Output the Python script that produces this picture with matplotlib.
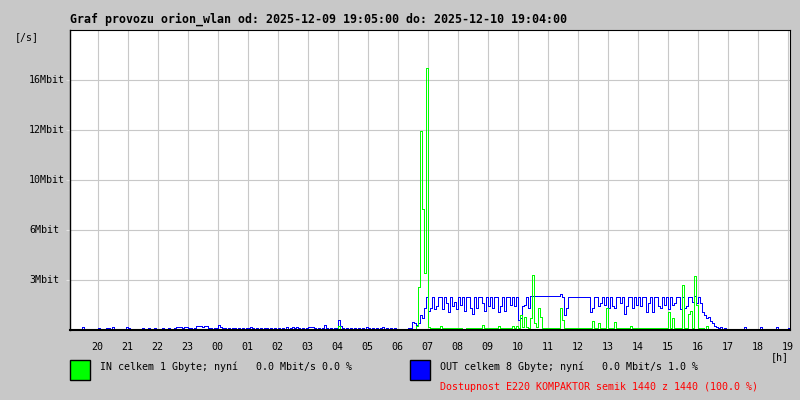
import matplotlib
matplotlib.use("Agg")
import matplotlib.pyplot as plt
from matplotlib.patches import Rectangle
from matplotlib.transforms import blended_transform_factory

# ---------------- data (Mbit/s, one value per 4 minutes, one row per hour from 19:05) ----------------
out_rows = [
    [0.05, 0.05, 0.05, 0.05, 0.05, 0.05, 0.2, 0.05, 0.05, 0.05, 0.05, 0.05, 0.05, 0.05, 0.15],
    [0.05, 0.08, 0.05, 0.12, 0.12, 0.05, 0.18, 0.08, 0.05, 0.05, 0.08, 0.05, 0.08, 0.18, 0.15],
    [0.08, 0.05, 0.08, 0.05, 0.1, 0.1, 0.12, 0.1, 0.1, 0.12, 0.1, 0.1, 0.12, 0.1, 0.1],
    [0.1, 0.12, 0.1, 0.1, 0.12, 0.1, 0.1, 0.12, 0.22, 0.2, 0.22, 0.15, 0.22, 0.2, 0.12],
    [0.12, 0.1, 0.15, 0.3, 0.25, 0.3, 0.2, 0.28, 0.3, 0.15, 0.12, 0.1, 0.12, 0.15, 0.35],
    [0.2, 0.12, 0.15, 0.1, 0.12, 0.1, 0.15, 0.12, 0.1, 0.12, 0.1, 0.12, 0.1, 0.12, 0.15],
    [0.18, 0.12, 0.1, 0.12, 0.1, 0.12, 0.1, 0.12, 0.15, 0.1, 0.12, 0.1, 0.12, 0.1, 0.12],
    [0.1, 0.12, 0.1, 0.22, 0.1, 0.12, 0.18, 0.15, 0.18, 0.15, 0.1, 0.12, 0.1, 0.12, 0.22],
    [0.2, 0.2, 0.12, 0.1, 0.12, 0.1, 0.12, 0.35, 0.12, 0.1, 0.12, 0.1, 0.12, 0.15, 0.65],
    [0.3, 0.12, 0.1, 0.12, 0.1, 0.12, 0.1, 0.12, 0.1, 0.12, 0.1, 0.12, 0.1, 0.22, 0.12],
    [0.1, 0.12, 0.1, 0.12, 0.1, 0.12, 0.22, 0.1, 0.12, 0.1, 0.12, 0.1, 0.12, 0.1, 0.1],
    [0.1, 0.1, 0.1, 0.1, 0.12, 0.12, 0.55, 0.45, 0.35, 0.5, 1.0, 0.8, 1.5, 2.2, 1.3],
    [1.5, 2.2, 1.4, 1.6, 2.2, 2.2, 1.4, 2.2, 1.8, 1.2, 2.2, 1.6, 1.9, 1.4, 2.2],
    [1.7, 2.2, 1.3, 2.2, 2.2, 1.5, 1.1, 2.2, 1.5, 2.2, 2.2, 1.8, 1.3, 2.2, 1.6],
    [2.2, 1.5, 2.2, 2.2, 1.2, 1.6, 2.2, 1.3, 2.2, 2.2, 1.7, 2.2, 1.6, 2.2, 0.7],
    [0.8, 1.6, 1.7, 2.2, 1.5, 2.25, 2.3, 2.3, 2.25, 2.25, 2.25, 2.25, 2.25, 2.25, 2.25],
    [2.25, 2.25, 2.25, 2.25, 2.25, 2.4, 2.2, 1.0, 1.5, 2.2, 2.2, 2.2, 2.2, 2.2, 2.2],
    [2.2, 2.2, 2.2, 2.2, 2.2, 1.2, 1.5, 2.2, 2.2, 1.6, 1.8, 2.2, 1.7, 2.2, 1.5],
    [2.2, 1.6, 1.5, 2.2, 2.2, 1.8, 2.2, 1.1, 1.6, 2.2, 2.2, 1.5, 2.2, 1.7, 2.2],
    [1.6, 2.2, 2.2, 1.2, 1.8, 2.2, 1.2, 2.2, 2.2, 1.6, 1.5, 2.2, 1.7, 2.2, 1.4],
    [2.2, 1.7, 1.8, 2.2, 2.2, 1.4, 2.2, 1.5, 1.6, 2.2, 2.2, 1.9, 2.3, 1.8, 2.2],
    [1.8, 1.2, 1.0, 0.8, 0.9, 0.6, 0.45, 0.3, 0.2, 0.15, 0.2, 0.1, 0.15, 0.1, 0.1],
    [0.08, 0.08, 0.08, 0.08, 0.08, 0.08, 0.08, 0.2, 0.08, 0.08, 0.08, 0.08, 0.08, 0.08, 0.08],
    [0.2, 0.08, 0.08, 0.08, 0.08, 0.08, 0.08, 0.08, 0.2, 0.08, 0.08, 0.08, 0.08, 0.08, 0.15],
]

in_rows = [
    [0, 0, 0, 0, 0, 0, 0, 0, 0, 0, 0, 0, 0, 0, 0],
    [0, 0, 0, 0, 0, 0, 0, 0, 0, 0, 0, 0, 0, 0, 0],
    [0, 0, 0, 0, 0, 0, 0, 0, 0, 0, 0, 0, 0, 0, 0],
    [0, 0, 0, 0, 0, 0, 0, 0, 0, 0, 0, 0, 0, 0, 0],
    [0, 0, 0, 0, 0, 0, 0, 0, 0, 0, 0, 0, 0, 0, 0],
    [0, 0, 0, 0, 0, 0, 0, 0, 0, 0, 0, 0, 0, 0, 0],
    [0, 0, 0, 0, 0, 0, 0, 0, 0, 0, 0, 0, 0, 0, 0],
    [0, 0, 0, 0, 0, 0, 0, 0, 0, 0, 0, 0, 0, 0, 0],
    [0, 0, 0, 0, 0, 0, 0, 0, 0, 0, 0, 0, 0, 0, 0.3],
    [0, 0, 0, 0, 0, 0, 0, 0, 0, 0, 0, 0, 0, 0, 0],
    [0, 0, 0, 0, 0, 0, 0, 0, 0, 0, 0, 0, 0, 0, 0],
    [0, 0, 0, 0, 0, 0, 0.05, 0.1, 0.3, 2.9, 13.3, 8.1, 3.8, 17.5, 0.2],
    [0.15, 0.15, 0.15, 0.15, 0.15, 0.3, 0.15, 0.15, 0.15, 0.15, 0.15, 0.15, 0.15, 0.15, 0.15],
    [0.15, 0.05, 0.05, 0.15, 0.15, 0.15, 0.15, 0.15, 0.15, 0.15, 0.15, 0.35, 0.15, 0.15, 0.15],
    [0.15, 0.15, 0.15, 0.15, 0.3, 0.15, 0.15, 0.15, 0.15, 0.15, 0.15, 0.25, 0.15, 0.25, 0.15],
    [1.0, 0.2, 0.9, 0.2, 0.15, 0.8, 3.7, 0.5, 0.2, 1.5, 0.9, 0.15, 0.15, 0.15, 0.15],
    [0.15, 0.15, 0.15, 0.15, 0.15, 1.5, 0.7, 0.15, 0.15, 0.15, 0.15, 0.15, 0.15, 0.15, 0.15],
    [0.15, 0.15, 0.15, 0.15, 0.15, 0.15, 0.6, 0.15, 0.15, 0.45, 0.15, 0.15, 0.15, 1.5, 0.15],
    [0.15, 0.15, 0.55, 0.15, 0.15, 0.15, 0.15, 0.15, 0.15, 0.15, 0.3, 0.15, 0.15, 0.15, 0.15],
    [0.15, 0.15, 0.15, 0.15, 0.15, 0.15, 0.15, 0.15, 0.15, 0.15, 0.15, 0.15, 0.15, 0.15, 1.2],
    [0.15, 0.8, 0.15, 0.15, 0.15, 0.15, 3.0, 0.15, 0.15, 1.1, 1.3, 0.15, 3.6, 1.7, 0.15],
    [0.15, 0.15, 0.1, 0.3, 0.05, 0, 0, 0, 0, 0, 0, 0, 0, 0, 0],
    [0, 0, 0, 0, 0, 0, 0, 0, 0, 0, 0, 0, 0, 0, 0],
    [0, 0, 0, 0, 0, 0, 0, 0, 0, 0, 0, 0, 0, 0, 0],
]

hour_labels = ["20", "21", "22", "23", "00", "01", "02", "03", "04", "05", "06", "07",
               "08", "09", "10", "11", "12", "13", "14", "15", "16", "17", "18", "19"]
y_tick_labels = ["3Mbit", "6Mbit", "10Mbit", "12Mbit", "16Mbit"]
y_max = 20.0
step_min = 4
first_hour_offset = 55   # minutes from 19:05 to 20:00
total_min = 1440

title = "Graf provozu orion_wlan od: 2025-12-09 19:05:00 do: 2025-12-10 19:04:00"
legend_in = "IN celkem 1 Gbyte; nyní   0.0 Mbit/s 0.0 %"
legend_out = "OUT celkem 8 Gbyte; nyní   0.0 Mbit/s 1.0 %"
availability = "Dostupnost E220 KOMPAKTOR semik 1440 z 1440 (100.0 %)"

# ---------------- figure ----------------
W, H = 800, 400
BG = "#c8c8c8"
GRID = "#c8c8c8"
MONO = ["DejaVu Sans Mono"]
FS = 7.2

fig = plt.figure(figsize=(W / 100, H / 100), dpi=100, facecolor=BG)
ax = fig.add_axes([70 / W, (H - 330) / H, 720 / W, 300 / H])
ax.set_facecolor("white")

out_vals = [v for row in out_rows for v in row]
in_vals = [v for row in in_rows for v in row]
xs = [i * step_min for i in range(len(out_vals))] + [total_min]

ax.plot(xs, out_vals + [out_vals[-1]], drawstyle="steps-post", color="#0000ff",
        lw=0.7, antialiased=False, zorder=2)
ax.plot(xs, in_vals + [in_vals[-1]], drawstyle="steps-post", color="#00ff00",
        lw=0.7, antialiased=False, zorder=2.1)

ax.set_xlim(0, total_min)
ax.set_ylim(0, y_max)

xt = [first_hour_offset + 60 * k for k in range(len(hour_labels))]
yt = [y_max / 6 * (k + 1) for k in range(len(y_tick_labels))]
ax.set_xticks(xt)
ax.set_yticks(yt)
ax.set_xticklabels([])
ax.set_yticklabels([])
ax.tick_params(axis="x", length=0)
ax.tick_params(axis="y", length=3, width=0.8, color="#e4e4e4")
ax.grid(True, color=GRID, lw=0.8, zorder=0)
ax.set_axisbelow(True)

for s in ax.spines.values():
    s.set_color("black")
    s.set_linewidth(0.8)
ax.spines["bottom"].set_linewidth(1.5)
ax.spines["left"].set_linewidth(1.0)

# x tick labels
tx = blended_transform_factory(ax.transData, fig.transFigure)
for x, lab in zip(xt, hour_labels):
    ax.text(x, 1 - 347 / H, lab, transform=tx, ha="center", va="center",
            fontsize=FS, family=MONO, color="black", clip_on=False)

# y tick labels (left aligned)
ty = blended_transform_factory(fig.transFigure, ax.transData)
for y, lab in zip(yt, y_tick_labels):
    ax.text(29 / W, y, lab, transform=ty, ha="left", va="center",
            fontsize=FS, family=MONO, color="black", clip_on=False)

fig.text(70 / W, 1 - 19 / H, title, ha="left", va="center", fontsize=8.4,
         family=MONO, fontweight="bold", color="black")
fig.text(15 / W, 1 - 37 / H, "[/s]", ha="left", va="center", fontsize=FS,
         family=MONO, color="black")
fig.text(771 / W, 1 - 357 / H, "[h]", ha="left", va="center", fontsize=FS,
         family=MONO, color="black")

# legend
fig.add_artist(Rectangle((70 / W, 1 - 380 / H), 20 / W, 20 / H, transform=fig.transFigure,
                         facecolor="#00ff00", edgecolor="black", lw=1.0))
fig.add_artist(Rectangle((410 / W, 1 - 380 / H), 20 / W, 20 / H, transform=fig.transFigure,
                         facecolor="#0000ff", edgecolor="black", lw=1.0))
fig.text(100 / W, 1 - 367 / H, legend_in, ha="left", va="center", fontsize=FS,
         family=MONO, color="black")
fig.text(440 / W, 1 - 367 / H, legend_out, ha="left", va="center", fontsize=FS,
         family=MONO, color="black")
fig.text(440 / W, 1 - 387 / H, availability, ha="left", va="center", fontsize=FS,
         family=MONO, color="#ff0000")

fig.savefig("out.png", dpi=100, facecolor=BG)
